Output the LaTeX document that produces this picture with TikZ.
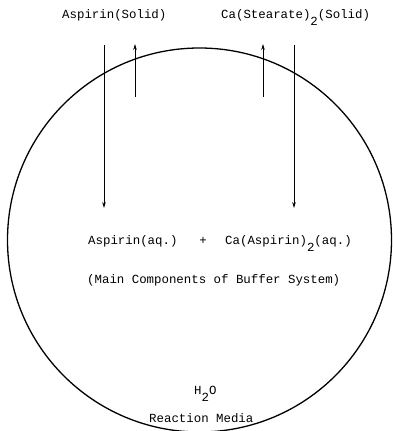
\documentclass[tikz,border=0pt]{standalone}
\usepackage{fontspec}
\setmainfont{Liberation Mono}
\usetikzlibrary{arrows.meta}
\newcommand{\lowtwo}{\raisebox{-7pt}{2}}
\tikzset{
  lbl/.style={anchor=base west, inner sep=0pt, font=\fontsize{12.4}{14}\selectfont},
  flow/.style={line width=0.9pt, -{Stealth[length=6pt,width=3.6pt]}},
  vessel/.style={line width=1.3pt}
}
\begin{document}
\begin{tikzpicture}[x=1pt,y=1pt]
\useasboundingbox (0,0) rectangle (392,431);
\node[vessel, draw, circle, minimum size=384pt, inner sep=0pt] (media) at (199.5,191) {};
\node[lbl] (asol) at (62,412) {Aspirin(Solid)};
\node[lbl] (csol) at (221,412) {Ca(Stearate)\lowtwo(Solid)};
\node[lbl] (aq) at (88,186) {Aspirin(aq.)};
\node[lbl, anchor=base] (plus) at (203,186) {+};
\node[lbl] (caasp) at (225,186) {Ca(Aspirin)\lowtwo(aq.)};
\node[lbl] (main) at (87,147) {(Main Components of Buffer System)};
\node[lbl] (water) at (194,36) {H\lowtwo O};
\node[lbl] (rmed) at (149,9) {Reaction Media};
\coordinate (a1s) at (104,386);
\coordinate (a1e) at (104,223);
\coordinate (a2s) at (135,334);
\coordinate (a2e) at (135,387);
\coordinate (c1s) at (263,334);
\coordinate (c1e) at (263,387);
\coordinate (c2s) at (294,386);
\coordinate (c2e) at (294,223);
\draw[flow] (a1s) -- (a1e);
\draw[flow] (a2s) -- (a2e);
\draw[flow] (c1s) -- (c1e);
\draw[flow] (c2s) -- (c2e);
\end{tikzpicture}
\end{document}
